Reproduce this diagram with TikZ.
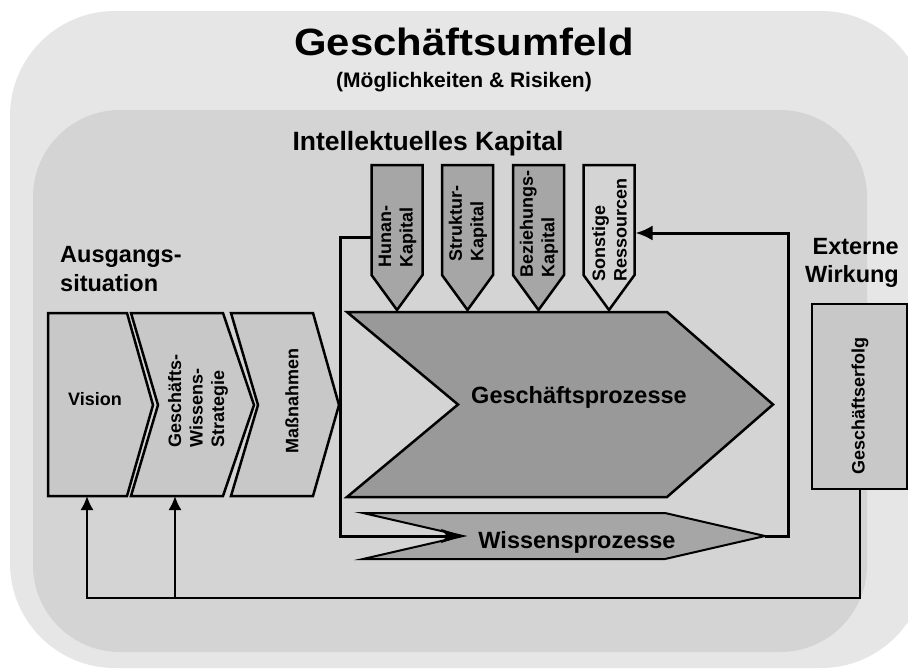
\documentclass[tikz,border=0pt]{standalone}
\usepackage{fontspec}
\setmainfont{Liberation Sans}
\usetikzlibrary{arrows.meta}

\definecolor{envgray}{HTML}{E6E6E6}
\definecolor{capgray}{HTML}{D4D4D4}
\definecolor{stepgray}{HTML}{C8C8C8}
\definecolor{procgray}{HTML}{999999}
\definecolor{resgray}{HTML}{A6A6A6}

\newcommand{\fsz}[2]{\fontsize{#1}{#2}\selectfont\bfseries}

\begin{document}
\begin{tikzpicture}[x=1pt, y=-1pt,
  outline/.style={draw=black, line width=2.5pt, line join=miter, miter limit=20},
  stepshape/.style={outline, fill=stepgray},
  resbox/.style={outline, fill=resgray},
  plainres/.style={outline, fill=capgray},
  label/.style={inner sep=0pt, text=black},
  rotlabel/.style={label, rotate=90, align=left, font=\fsz{18}{21.5}},
  flow/.style={draw=black, line width=3pt,
    -{Latex[length=17pt, width=15pt]}},
  infeed/.style={draw=black, line width=3pt,
    -{Stealth[length=22pt, width=14pt, inset=6pt]}},
  feedback/.style={draw=black, line width=2pt,
    -{Latex[length=14pt, width=13pt]}}
]
\useasboundingbox (0,0) rectangle (908,670);
\clip (0,0) rectangle (908,670);
\fill[white] (0,0) rectangle (908,670);

% business environment and intellectual capital areas
\fill[envgray, rounded corners=105pt] (10,11) rectangle (926,668);
\fill[capgray, rounded corners=87pt] (33,110) rectangle (867,652);

% headings
\node[label, anchor=base, font=\fsz{38}{44}] (title) at (464,55)
  {\scalebox{1.1}[1]{Geschäftsumfeld}};
\node[label, anchor=base, font=\fsz{21}{25}] (subtitle) at (464,87)
  {(Möglichkeiten \& Risiken)};
\node[label, anchor=base, font=\fsz{26.5}{31}] (ic) at (428,150)
  {Intellektuelles Kapital};
\node[label, anchor=west, align=left, font=\fsz{23.5}{28.5}] (start) at (60,269)
  {Ausgangs-\\situation};
\node[label, anchor=east, align=right, font=\fsz{23.5}{28}] (ext) at (899,263)
  {Externe\\Wirkung};

% starting situation: vision, strategy, measures
\path[stepshape] (48,313) coordinate (vision-nw) -- (127,313) -- (153,405)
  -- (127,496) -- (48,496) -- cycle;
\path[stepshape] (131,313) -- (223,313) -- (254,405) -- (223,496)
  -- (131,496) -- (158,405) -- cycle;
\path[stepshape] (231,313) -- (313,313) -- (339,405) -- (313,496)
  -- (231,496) -- (258,405) -- cycle;
\coordinate (vision-in) at (87,496);
\coordinate (strat-in) at (175,496);
\node[label, anchor=base, font=\fsz{18}{21.5}] (vision) at (95,405) {Vision};
\node[rotlabel] (strat) at (198,401) {Geschäfts-\\Wissens-\\Strategie};
\node[rotlabel] (measures) at (292,401) {Maßnahmen};

% business processes
\path[outline, fill=procgray] (347,312) -- (667,312) -- (773,404.5)
  -- (667,497) -- (347,497) -- (458,404.5) -- cycle;
\node[label, anchor=base, font=\fsz{23.5}{28}] (bp) at (579,403)
  {Geschäftsprozesse};

% knowledge processes
\path[outline, line width=2pt, fill=resgray] (363,513) -- (665,513)
  -- (765,536) coordinate (wp-tip) -- (665,559) -- (363,559)
  -- (463,536) coordinate (wp-notch) -- cycle;
\node[label, anchor=base, font=\fsz{23.5}{28}] (wp) at (577,548)
  {Wissensprozesse};

% capital inputs
\path[resbox] (371.5,165) -- (422.5,165) -- (422.5,275) -- (397,310)
  -- (371.5,275) -- cycle;
\path[resbox] (442,165) -- (493,165) -- (493,275) -- (467.5,310)
  -- (442,275) -- cycle;
\path[resbox] (513,165) -- (564,165) -- (564,275) -- (538.5,310)
  -- (513,275) -- cycle;
\path[plainres] (583.5,165) -- (634.5,165) -- (634.5,275) -- (609,310)
  -- (583.5,275) -- cycle;
\coordinate (human-out) at (371.5,237);
\coordinate (res-in) at (635.5,233);
\node[rotlabel, anchor=west] (human) at (397.5,268) {Hunan-\\Kapital};
\node[rotlabel, anchor=west] (struct) at (468,262) {Struktur-\\Kapital};
\node[rotlabel, anchor=west] (relat) at (539,278) {Beziehungs-\\Kapital};
\node[rotlabel, anchor=west] (other) at (609.5,282) {Sonstige\\Ressourcen};

% business success
\node[outline, fill=stepgray, minimum width=95pt, minimum height=185pt,
  inner sep=0pt] (success) at (859.5,396.5) {};
\node[rotlabel] (successlabel) at (860,406) {Geschäftserfolg};

% connectors
\draw[infeed] (human-out) -- ++(-31.5,0) |- (wp-notch);
\draw[flow] (wp-tip) -- ++(23,0) |- (res-in);
\draw[feedback] (success.south) -- ++(0,108) -| (vision-in);
\draw[feedback] (strat-in |- success.south) ++(0,108) -- (strat-in);
\end{tikzpicture}
\end{document}
